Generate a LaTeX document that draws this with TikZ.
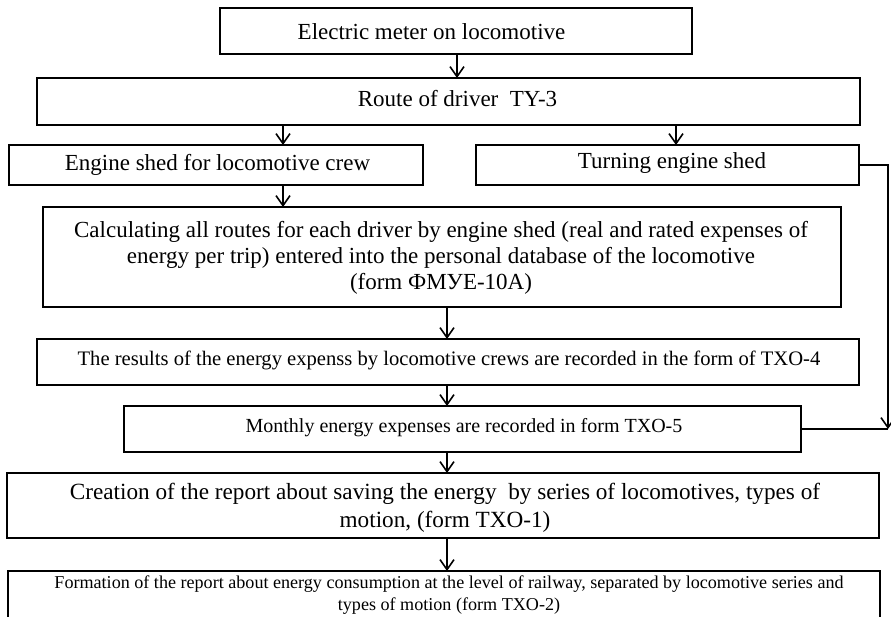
\documentclass[tikz,border=0pt]{standalone}
\usepackage{fontspec}
\setmainfont{Liberation Serif}
\usetikzlibrary{arrows.meta}
\begin{document}
\begin{tikzpicture}[x=1pt,y=-1pt,
  box/.style={draw, line width=2.8pt, inner sep=0pt, outer sep=0pt},
  lbl/.style={inner sep=0pt, anchor=base, align=center},
  arr/.style={line width=1.6pt, -{Straight Barb[length=10pt,width=14pt,line width=1.6pt]}},
  ln/.style={line width=1.6pt}]
\useasboundingbox (0,0) rectangle (891,617);
% boxes
\node[box, minimum width=472pt, minimum height=46pt] (b1) at (456,31) {};
\node[box, minimum width=823pt, minimum height=47pt] (b2) at (448.5,101.5) {};
\node[box, minimum width=414pt, minimum height=40pt] (b3) at (216,165) {};
\node[box, minimum width=383pt, minimum height=40pt] (b4) at (667.5,165) {};
\node[box, minimum width=798pt, minimum height=100pt] (b5) at (442,257) {};
\node[box, minimum width=822pt, minimum height=46pt] (b6) at (448,362) {};
\node[box, minimum width=677pt, minimum height=46pt] (b7) at (462.5,429) {};
\node[box, minimum width=872pt, minimum height=65pt] (b8) at (443,505.5) {};
\node[box, minimum width=872pt, minimum height=48pt] (b9) at (444,595) {};
% texts (base anchor = baseline of the last line)
\node[lbl, font=\fontsize{23}{26}\selectfont] (t1) at (431.5,40) {Electric meter on locomotive};
\node[lbl, font=\fontsize{23}{26}\selectfont] (t2) at (457.5,107) {Route of driver\ \ TY-3};
\node[lbl, font=\fontsize{23}{26}\selectfont] (t3) at (217.5,171) {Engine shed for locomotive crew};
\node[lbl, font=\fontsize{23}{26}\selectfont] (t4) at (672,169) {Turning engine shed};
\node[lbl, font=\fontsize{23}{26}\selectfont] (t5) at (441,290) {Calculating all routes for each driver by engine shed (real and rated expenses of\\energy per trip) entered into the personal database of the locomotive\\(form ФМУЕ-10А)};
\node[lbl, font=\fontsize{20.6}{24}\selectfont] (t6) at (449,365) {The results of the energy expenss by locomotive crews are recorded in the form of TXO-4};
\node[lbl, font=\fontsize{20}{24}\selectfont] (t7) at (464,432) {Monthly energy expenses are recorded in form TXO-5};
\node[lbl, font=\fontsize{23.2}{28}\selectfont] (t8) at (445,527) {Creation of the report about saving the energy\ \ by series of locomotives, types of\\motion, (form TXO-1)};
\node[lbl, font=\fontsize{18.1}{22}\selectfont] (t9) at (449,610) {Formation of the report about energy consumption at the level of railway, separated by locomotive series and\\types of motion (form TXO-2)};
% connector x positions
\coordinate (x1) at (457,0);
\coordinate (x2) at (283,0);
\coordinate (x3) at (676,0);
\coordinate (x4) at (447,0);
\coordinate (x5) at (447,0);
\coordinate (corner) at (888,429);
% connectors
\draw[arr] (b1.south -| x1) -- (b2.north -| x1);
\draw[arr] (b2.south -| x2) -- (b3.north -| x2);
\draw[arr] (b2.south -| x3) -- (b4.north -| x3);
\draw[arr] (b3.south -| x2) -- (b5.north -| x2);
\draw[arr] (b5.south -| x4) -- (b6.north -| x4);
\draw[arr] (b6.south -| x4) -- (b7.north -| x4);
\draw[arr] (b7.south -| x5) -- (b8.north -| x5);
\draw[arr] (b8.south -| x5) -- (b9.north -| x5);
\draw[arr] (b4.east) -| (corner);
\draw[ln] (b7.east) -- (corner);
\end{tikzpicture}
\end{document}
